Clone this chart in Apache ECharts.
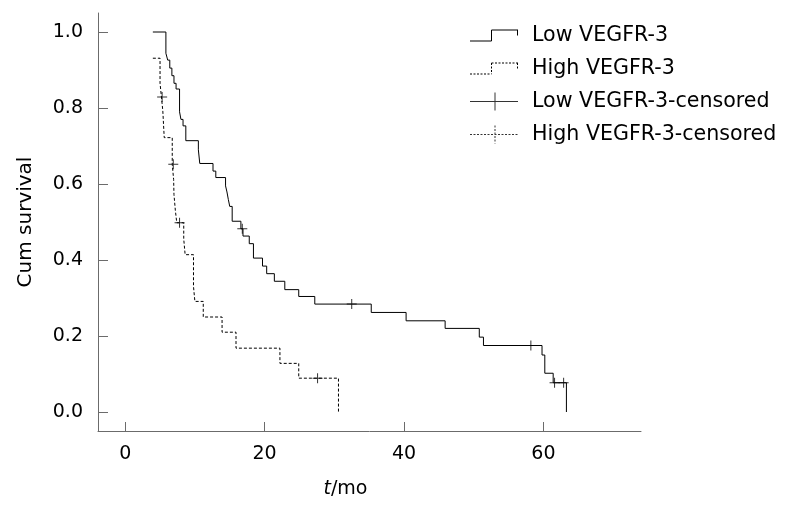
<!DOCTYPE html>
<html>
<head>
<meta charset="utf-8">
<script src="https://cdn.jsdelivr.net/npm/echarts@6/dist/echarts.min.js"></script>
<style>
html,body{margin:0;padding:0;background:#fff;}
#chart{width:787px;height:510px;}
</style>
</head>
<body>
<div id="chart"></div>
<script>
// ---- data ----
const lowTime = [3.97, 5.84, 6.1, 6.4, 6.7, 7.0, 7.3, 7.8, 8.0, 8.3, 8.7, 10.5, 10.7, 12.6, 13.0, 14.4, 14.6, 14.8, 15.0, 15.35, 16.6, 16.9, 17.8, 18.4, 19.7, 20.3, 21.4, 22.9, 24.9, 27.2, 35.3, 40.3, 45.9, 50.8, 51.4, 59.8, 60.2, 61.4, 63.3];
const lowSurv = [1.0, 0.944, 0.926, 0.905, 0.885, 0.865, 0.85, 0.79, 0.77, 0.753, 0.714, 0.69, 0.654, 0.634, 0.617, 0.595, 0.579, 0.559, 0.541, 0.502, 0.482, 0.463, 0.443, 0.405, 0.384, 0.364, 0.344, 0.322, 0.304, 0.284, 0.262, 0.240, 0.220, 0.197, 0.175, 0.150, 0.102, 0.077, 0.0];
const lowCensTime = [16.8, 32.5, 58.2, 61.6, 62.9];
const lowCensSurv = [0.482, 0.284, 0.175, 0.077, 0.077];

const highTime = [3.97, 5.0, 5.2, 5.4, 5.6, 6.75, 6.95, 7.0, 7.2, 7.4, 8.4, 8.6, 9.8, 10.0, 11.2, 13.9, 15.9, 22.2, 24.9, 30.6];
const highSurv = [0.931, 0.865, 0.829, 0.792, 0.722, 0.652, 0.612, 0.572, 0.530, 0.498, 0.455, 0.414, 0.33, 0.291, 0.25, 0.21, 0.168, 0.128, 0.089, 0.0];
const highCensTime = [5.3, 6.9, 7.8, 27.6];
const highCensSurv = [0.829, 0.652, 0.498, 0.089];

const seriesNames = ['Low VEGFR-3', 'High VEGFR-3', 'Low VEGFR-3-censored', 'High VEGFR-3-censored'];
const xTicks = [0, 20, 40, 60];
const yTicks = [0, 0.2, 0.4, 0.6, 0.8, 1.0];

// ---- helpers ----
function zip(a, b) { return a.map((v, i) => [v, b[i]]); }
function rect(x, y, w, h) { return 'M' + x + ',' + y + 'h' + w + 'v' + h + 'h' + (-w) + 'z'; }
function seg(x1, y1, x2, y2, dash, gap) {
  let s = '';
  const horiz = y1 === y2;
  const a = horiz ? Math.min(x1, x2) : Math.min(y1, y2);
  const b = horiz ? Math.max(x1, x2) : Math.max(y1, y2);
  const step = dash ? dash + gap : (b - a);
  for (let p = a; p < b - 0.01; p += step) {
    const len = dash ? Math.min(dash, b - p) : (b - a);
    s += horiz ? rect(p, y1 - 0.5, len, 1) : rect(x1 - 0.5, p, 1, len);
  }
  return s;
}
const BOX_W = 57, BOX_H = 18;
function frame() { return rect(0, 0, 0.02, 0.02) + rect(BOX_W - 0.02, BOX_H - 0.02, 0.02, 0.02); }
function stepIcon(d, g) {
  return 'path://' + frame() + seg(0, 14.5, 21.5, 14.5, d, g) + seg(21.5, 3.5, 21.5, 14.5, d, g) +
    seg(21.5, 3.5, 48, 3.5, d, g) + seg(47.5, 3.5, 47.5, 9, d, g);
}
function crossIcon(d, g) {
  return 'path://' + frame() + seg(0, 9, 48, 9, d, g) + seg(25, 0, 25, 18, d, g);
}
const plusSymbol = 'path://' + rect(0, 4.5, 10, 1) + rect(4.5, 0, 1, 10);

const chart = echarts.init(document.getElementById('chart'), null, { renderer: 'canvas' });
const FONT = 'DejaVu Sans';
const axisGray = '#6b6b6b';

chart.setOption({
  animation: false,
  backgroundColor: '#fff',
  grid: { left: 98, right: 146, top: 13, bottom: 79, containLabel: false },
  legend: {
    orient: 'vertical', left: 470, top: 25, padding: 0,
    itemWidth: BOX_W, itemHeight: BOX_H, itemGap: 12,
    textStyle: { fontFamily: FONT, fontSize: 20.6, color: '#000' },
    itemStyle: { color: '#000', borderWidth: 0 },
    selectedMode: false,
    data: [
      { name: seriesNames[0], icon: stepIcon(0, 0) },
      { name: seriesNames[1], icon: stepIcon(2, 1.5) },
      { name: seriesNames[2], icon: crossIcon(0, 0) },
      { name: seriesNames[3], icon: crossIcon(2, 1.5) }
    ]
  },
  xAxis: {
    type: 'value', min: -3.9, max: 74,
    name: '{i|t}/mo', nameLocation: 'middle', nameGap: 49,
    nameTextStyle: { fontFamily: FONT, fontSize: 19, color: '#000', padding: [0, 48, 0, 0],
      rich: { i: { fontFamily: FONT, fontSize: 19, fontStyle: 'italic', color: '#000' } } },
    axisLine: { show: true, onZero: false, lineStyle: { color: axisGray, width: 1 } },
    axisTick: { show: true, inside: true, length: 9, customValues: xTicks, lineStyle: { color: axisGray } },
    axisLabel: { customValues: xTicks, fontFamily: FONT, fontSize: 19, color: '#000', margin: 14 },
    splitLine: { show: false }
  },
  yAxis: {
    type: 'value', min: -0.05, max: 1.05,
    name: 'Cum survival', nameLocation: 'middle', nameGap: 62,
    nameTextStyle: { fontFamily: FONT, fontSize: 20, color: '#000' },
    axisLine: { show: true, onZero: false, lineStyle: { color: axisGray, width: 1 } },
    axisTick: { show: true, inside: true, length: 10, customValues: yTicks, lineStyle: { color: axisGray } },
    axisLabel: { customValues: yTicks, fontFamily: FONT, fontSize: 19, color: '#000', margin: 15,
      formatter: v => v.toFixed(1) },
    splitLine: { show: false }
  },
  series: [
    { name: seriesNames[0], type: 'line', step: 'end', showSymbol: false, silent: true,
      data: zip(lowTime, lowSurv), lineStyle: { color: '#000', width: 1 }, itemStyle: { color: '#000' } },
    { name: seriesNames[1], type: 'line', step: 'end', showSymbol: false, silent: true,
      data: zip(highTime, highSurv), lineStyle: { color: '#000', width: 1, type: [3, 2] }, itemStyle: { color: '#000' } },
    { name: seriesNames[2], type: 'scatter', symbol: plusSymbol, symbolSize: 10, silent: true,
      data: zip(lowCensTime, lowCensSurv), itemStyle: { color: '#000' } },
    { name: seriesNames[3], type: 'scatter', symbol: plusSymbol, symbolSize: 10, silent: true,
      data: zip(highCensTime, highCensSurv), itemStyle: { color: '#000' } }
  ]
});
</script>
</body>
</html>
